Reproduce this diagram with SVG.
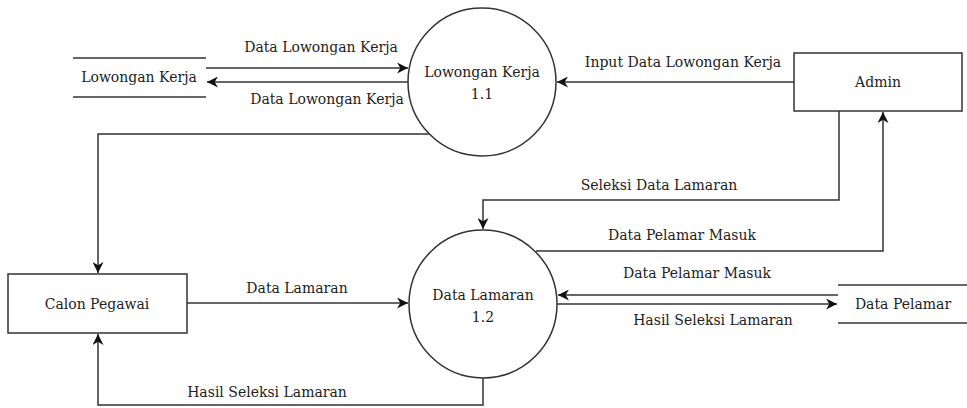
<svg xmlns="http://www.w3.org/2000/svg" width="967" height="408" viewBox="0 0 967 408">
<defs>
<marker id="ah" viewBox="0 0 10 10" refX="10" refY="5" markerWidth="11" markerHeight="11" markerUnits="userSpaceOnUse" orient="auto">
<path d="M0,0 L10,5 L0,10 L3,5 Z" fill="#111"/>
</marker>
</defs>
<style>
.t{font-family:"DejaVu Serif","Liberation Serif",serif;font-size:14px;fill:#222;text-anchor:middle}
.s{fill:#fff;stroke:#333;stroke-width:1.5}
.l{fill:none;stroke:#333;stroke-width:1.5}
.c{fill:none;stroke:#333;stroke-width:1.5;marker-end:url(#ah)}
</style>
<rect width="967" height="408" fill="#fff"/>
<g id="connectors">
<line class="c" x1="206" y1="68" x2="408" y2="68"/>
<text class="t" x="321" y="52">Data Lowongan Kerja</text>
<line class="c" x1="410" y1="82" x2="207" y2="82"/>
<text class="t" x="327" y="104">Data Lowongan Kerja</text>
<line class="c" x1="794" y1="82" x2="557" y2="82"/>
<text class="t" x="683" y="67">Input Data Lowongan Kerja</text>
<polyline class="c" points="429,134 98,134 98,273"/>
<polyline class="c" points="839,111 839,200 483,200 483,229"/>
<text class="t" x="659" y="190">Seleksi Data Lamaran</text>
<polyline class="c" points="536,251 883,251 883,112"/>
<text class="t" x="682" y="240">Data Pelamar Masuk</text>
<line class="c" x1="838" y1="295" x2="558" y2="295"/>
<text class="t" x="697" y="278">Data Pelamar Masuk</text>
<line class="c" x1="557" y1="304" x2="837" y2="304"/>
<text class="t" x="713" y="325">Hasil Seleksi Lamaran</text>
<line class="c" x1="187" y1="303" x2="408" y2="303"/>
<text class="t" x="297" y="293">Data Lamaran</text>
<polyline class="c" points="483,378 483,405 98,405 98,334"/>
<text class="t" x="267" y="397">Hasil Seleksi Lamaran</text>
</g>
<g id="p11">
<circle class="s" cx="482" cy="82" r="74"/>
<text class="t" x="482" y="77">Lowongan Kerja</text>
<text class="t" x="482" y="99">1.1</text>
</g>
<g id="p12">
<circle class="s" cx="483" cy="304" r="74"/>
<text class="t" x="483" y="300">Data Lamaran</text>
<text class="t" x="483" y="322">1.2</text>
</g>
<g id="admin">
<rect class="s" x="794" y="53" width="168" height="58"/>
<text class="t" x="878" y="87">Admin</text>
</g>
<g id="calon">
<rect class="s" x="8" y="274" width="179" height="59"/>
<text class="t" x="97" y="309">Calon Pegawai</text>
</g>
<g id="store-lowongan">
<line class="l" x1="73" y1="58" x2="206" y2="58"/>
<line class="l" x1="73" y1="97" x2="206" y2="97"/>
<text class="t" x="139" y="82">Lowongan Kerja</text>
</g>
<g id="store-pelamar">
<line class="l" x1="838" y1="285" x2="967" y2="285"/>
<line class="l" x1="838" y1="323" x2="967" y2="323"/>
<text class="t" x="903" y="309">Data Pelamar</text>
</g>
</svg>
